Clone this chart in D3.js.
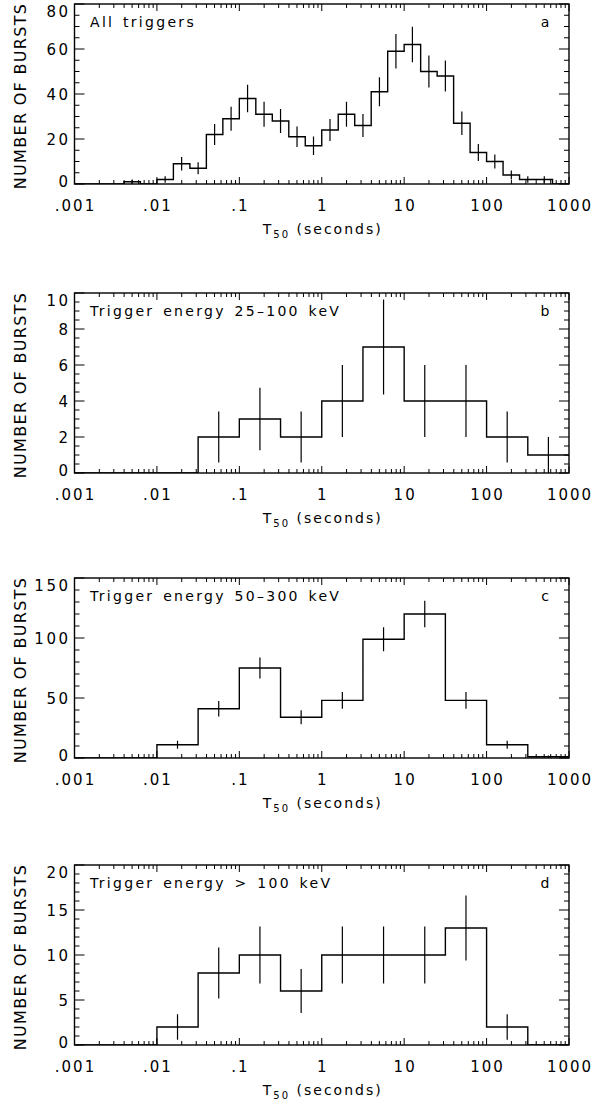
<!DOCTYPE html>
<html>
<head>
<meta charset="utf-8">
<script src="https://cdn.jsdelivr.net/npm/d3@7"></script>
<style>
  body { margin: 0; background: #fff; }
  text { font-family: "DejaVu Sans", sans-serif; fill: #000; }
</style>
</head>
<body>
<div id="chart"></div>
<script>
// bin edges as log10(T50 / s)
const logEdgesA = [-3, -2.8, -2.6, -2.4, -2.2, -2, -1.8, -1.6, -1.4, -1.2, -1, -0.8, -0.6, -0.4, -0.2,
  0, 0.2, 0.4, 0.6, 0.8, 1, 1.2, 1.4, 1.6, 1.8, 2, 2.2, 2.4, 2.6, 2.8, 3];
const logEdgesBCD = [-3, -2.5, -2, -1.5, -1, -0.5, 0, 0.5, 1, 1.5, 2, 2.5, 3];

// counts per bin
const countsA = [0, 0, 0, 1, 0, 2, 9, 7, 22, 29, 38, 31, 28, 21, 17, 24, 31, 26, 41, 59, 62, 50, 48, 27, 14, 10, 4, 2, 2, 0];
const countsB = [0, 0, 0, 2, 3, 2, 4, 7, 4, 4, 2, 1];
const countsC = [0, 0, 11, 41, 75, 34, 48, 99, 120, 48, 11, 1];
const countsD = [0, 0, 2, 8, 10, 6, 10, 10, 10, 13, 2, 0];

const xTickValues = [0.001, 0.01, 0.1, 1, 10, 100, 1000];
const xTickLabels = ['.001', '.01', '.1', '1', '10', '100', '1000'];

const panelTitles = ['All triggers', 'Trigger energy 25\u2013100 keV', 'Trigger energy 50\u2013300 keV', 'Trigger energy > 100 keV'];
const panelLetters = ['a', 'b', 'c', 'd'];
const yMax = [80, 10, 150, 20];
const yMajor = [20, 2, 50, 5];
const yMinor = [5, 0.5, 10, 1];

const panels = [
  { edges: logEdgesA, counts: countsA },
  { edges: logEdgesBCD, counts: countsB },
  { edges: logEdgesBCD, counts: countsC },
  { edges: logEdgesBCD, counts: countsD }
];

const W = 592, H = 1105;
const left = 74.5, right = 569, ph = 180;
const tops = [4, 293, 578, 865];

const svg = d3.select('#chart').append('svg')
    .attr('width', W)
    .attr('height', H);
svg.append('rect').attr('width', W).attr('height', H).attr('fill', '#fff');

const x = d3.scaleLog().domain([0.001, 1000]).range([left, right]);

// minor log ticks 2..9 per decade
const xMinor = [];
[0.001, 0.01, 0.1, 1, 10, 100].forEach(d => {
  for (let k = 2; k <= 9; k++) xMinor.push(d * k);
});

panels.forEach((p, i) => {
  const top = tops[i], bottom = top + ph;
  const y = d3.scaleLinear().domain([0, yMax[i]]).range([bottom, top]);
  const g = svg.append('g');

  const clipId = 'clip' + i;
  g.append('clipPath').attr('id', clipId)
    .append('rect').attr('x', left).attr('y', top).attr('width', right - left).attr('height', ph);

  // ticks on all four sides, pointing inwards
  const ticks = g.append('g').attr('stroke', '#000').attr('stroke-width', 1);
  xTickValues.forEach(v => {
    ticks.append('line').attr('x1', x(v)).attr('x2', x(v)).attr('y1', bottom).attr('y2', bottom - 7);
    ticks.append('line').attr('x1', x(v)).attr('x2', x(v)).attr('y1', top).attr('y2', top + 7);
  });
  xMinor.forEach(v => {
    ticks.append('line').attr('x1', x(v)).attr('x2', x(v)).attr('y1', bottom).attr('y2', bottom - 4);
    ticks.append('line').attr('x1', x(v)).attr('x2', x(v)).attr('y1', top).attr('y2', top + 4);
  });
  const minorVals = d3.range(0, yMax[i] + 1e-9, yMinor[i]);
  minorVals.forEach(v => {
    const isMajor = Math.abs(v / yMajor[i] - Math.round(v / yMajor[i])) < 1e-6;
    const len = isMajor ? 10 : 5;
    ticks.append('line').attr('x1', left).attr('x2', left + len).attr('y1', y(v)).attr('y2', y(v));
    ticks.append('line').attr('x1', right).attr('x2', right - len).attr('y1', y(v)).attr('y2', y(v));
  });

  // histogram steps
  const pts = [];
  p.counts.forEach((c, j) => {
    pts.push([Math.pow(10, p.edges[j]), c]);
    pts.push([Math.pow(10, p.edges[j + 1]), c]);
  });
  const line = d3.line().x(d => x(d[0])).y(d => y(d[1]));
  g.append('path')
    .datum(pts)
    .attr('clip-path', `url(#${clipId})`)
    .attr('d', line)
    .attr('fill', 'none')
    .attr('stroke', '#000')
    .attr('stroke-width', 1.4);

  // sqrt(N) error bars at bin centres
  g.append('g').attr('clip-path', `url(#${clipId})`)
    .selectAll('line')
    .data(p.counts.map((c, j) => ({ c, lx: (p.edges[j] + p.edges[j + 1]) / 2 })).filter(d => d.c > 0))
    .enter().append('line')
      .attr('x1', d => x(Math.pow(10, d.lx)))
      .attr('x2', d => x(Math.pow(10, d.lx)))
      .attr('y1', d => y(Math.max(0, d.c - Math.sqrt(d.c))))
      .attr('y2', d => y(d.c + Math.sqrt(d.c)))
      .attr('stroke', '#000')
      .attr('stroke-width', 1.2);

  // frame
  g.append('rect')
    .attr('x', left).attr('y', top).attr('width', right - left).attr('height', ph)
    .attr('fill', 'none').attr('stroke', '#000').attr('stroke-width', 1.4);

  // y tick labels
  const ls = 2.5;
  d3.range(0, yMax[i] + 1e-9, yMajor[i]).forEach(v => {
    const yy = Math.max(top + 7, Math.min(bottom - 3, y(v)));
    g.append('text')
      .attr('x', 68 + ls).attr('y', yy + 5.5)
      .attr('text-anchor', 'end')
      .attr('font-size', 15)
      .attr('letter-spacing', ls)
      .text(d3.format('d')(v));
  });

  // x tick labels
  xTickValues.forEach((v, k) => {
    g.append('text')
      .attr('x', x(v) + 1).attr('y', bottom + 26.5)
      .attr('text-anchor', 'middle')
      .attr('font-size', 15)
      .attr('letter-spacing', 2)
      .text(xTickLabels[k]);
  });

  // x title with subscript
  const xt = g.append('text')
    .attr('x', (left + right) / 2 + 1).attr('y', bottom + 50)
    .attr('text-anchor', 'middle')
    .attr('font-size', 14)
    .attr('letter-spacing', 2);
  xt.append('tspan').text('T');
  xt.append('tspan').attr('font-size', 10).attr('dy', 4).text('50');
  xt.append('tspan').attr('dy', -4).text(' (seconds)');

  // y title
  g.append('text')
    .attr('transform', `translate(26, ${(top + bottom) / 2 + 2}) rotate(-90)`)
    .attr('text-anchor', 'middle')
    .attr('font-size', 16)
    .attr('letter-spacing', 1.3)
    .text('NUMBER OF BURSTS');

  // panel labels
  g.append('text')
    .attr('x', 90).attr('y', top + 23)
    .attr('font-size', 14)
    .attr('letter-spacing', 2.3)
    .attr('word-spacing', 2)
    .text(panelTitles[i]);
  g.append('text')
    .attr('x', 545).attr('y', top + 23)
    .attr('text-anchor', 'middle')
    .attr('font-size', 14)
    .text(panelLetters[i]);
});
</script>
</body>
</html>
